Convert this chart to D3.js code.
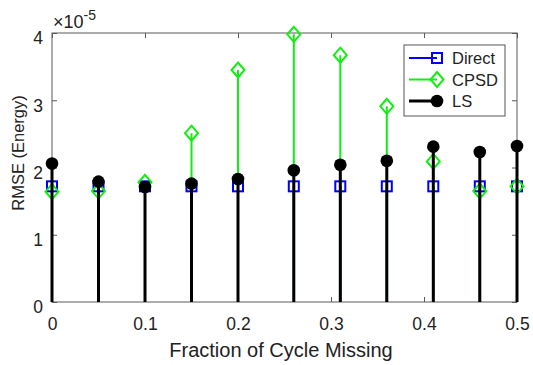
<!DOCTYPE html>
<html>
<head>
<meta charset="utf-8">
<script src="https://cdn.jsdelivr.net/npm/d3@7"></script>
<style>
  body { margin: 0; background: #fff; }
  text { font-family: "Liberation Sans", Arial, sans-serif; }
</style>
</head>
<body>
<div id="chart"></div>
<script>
const fractions = [0, 0.05, 0.1, 0.15, 0.2, 0.26, 0.31, 0.36, 0.41, 0.46, 0.5];
// values in units of 1e-5
const direct = [1.72, 1.72, 1.72, 1.72, 1.72, 1.72, 1.72, 1.72, 1.72, 1.72, 1.72];
const cpsd = [1.64, 1.65, 1.78, 2.51, 3.45, 3.98, 3.67, 2.91, 2.09, 1.65, 1.72];
const ls = [2.06, 1.79, 1.71, 1.76, 1.83, 1.96, 2.04, 2.10, 2.31, 2.23, 2.32];
const xTicks = [0, 0.1, 0.2, 0.3, 0.4, 0.5];
const yTicks = [0, 1, 2, 3, 4];

const width = 533, height = 365;
const plotLeft = 52, plotRight = 517, plotTop = 33, plotBottom = 302;

const svg = d3.select('#chart').append('svg')
    .attr('width', width)
    .attr('height', height);

const x = d3.scaleLinear().domain([0, 0.5]).range([plotLeft, plotRight]);
const y = d3.scaleLinear().domain([0, 4]).range([plotBottom, plotTop]);

// axes box
const axisColor = '#5a5a5a';
svg.append('rect')
    .attr('x', plotLeft).attr('y', plotTop)
    .attr('width', plotRight - plotLeft).attr('height', plotBottom - plotTop)
    .attr('fill', 'none').attr('stroke', axisColor).attr('stroke-width', 1);

const xAxis = svg.append('g').attr('transform', `translate(0,${plotBottom})`)
    .call(d3.axisBottom(x).tickValues(xTicks).tickFormat(d => d).tickSizeInner(-5).tickSizeOuter(0).tickPadding(16));
const xAxisTop = svg.append('g').attr('transform', `translate(0,${plotTop})`)
    .call(d3.axisTop(x).tickValues(xTicks).tickFormat('').tickSizeInner(-5).tickSizeOuter(0));
const yAxis = svg.append('g').attr('transform', `translate(${plotLeft},0)`)
    .call(d3.axisLeft(y).tickValues(yTicks).tickFormat(d => d).tickSizeInner(-5).tickSizeOuter(0).tickPadding(9));
const yAxisRight = svg.append('g').attr('transform', `translate(${plotRight},0)`)
    .call(d3.axisRight(y).tickValues(yTicks).tickFormat('').tickSizeInner(-5).tickSizeOuter(0));

[xAxis, xAxisTop, yAxis, yAxisRight].forEach(g => {
    g.select('.domain').remove();
    g.selectAll('line').attr('stroke', axisColor);
    g.selectAll('text').attr('fill', '#222').style('font-size', '17.5px')
        .style('font-family', '"Liberation Sans", Arial, sans-serif');
});
yAxis.selectAll('text').attr('dy', '0.62em');

// exponent label
const expo = svg.append('text').attr('x', 53).attr('y', 28)
    .attr('fill', '#222').style('font-size', '18px');
expo.append('tspan').text('\u00d710');
expo.append('tspan').attr('dy', -8).style('font-size', '14px').text('-5');

// axis labels
svg.append('text')
    .attr('x', 281).attr('y', 357)
    .attr('text-anchor', 'middle').attr('fill', '#222')
    .style('font-size', '20px')
    .text('Fraction of Cycle Missing');
svg.append('text')
    .attr('transform', `translate(24,153) rotate(-90)`)
    .attr('text-anchor', 'middle').attr('fill', '#222')
    .style('font-size', '16.5px')
    .text('RMSE (Energy)');

const series = [
    { name: 'Direct', values: direct, color: '#0000ff', marker: 'square', sw: 2 },
    { name: 'CPSD', values: cpsd, color: '#11ee11', marker: 'diamond', sw: 2 },
    { name: 'LS', values: ls, color: '#000000', marker: 'circle', sw: 3 }
];

function drawMarker(g, type, cx, cy, color) {
    if (type === 'square') {
        g.append('rect').attr('x', cx - 5).attr('y', cy - 5)
            .attr('width', 10).attr('height', 10)
            .attr('fill', 'none').attr('stroke', color).attr('stroke-width', 2);
    } else if (type === 'diamond') {
        g.append('path')
            .attr('d', `M${cx},${cy - 7.5}L${cx + 6.5},${cy}L${cx},${cy + 7.5}L${cx - 6.5},${cy}Z`)
            .attr('fill', 'none').attr('stroke', color).attr('stroke-width', 2);
    } else {
        g.append('circle').attr('cx', cx).attr('cy', cy).attr('r', 6.3)
            .attr('fill', color);
    }
}

series.forEach(s => {
    const g = svg.append('g');
    s.values.forEach((v, i) => {
        g.append('line')
            .attr('x1', x(fractions[i])).attr('x2', x(fractions[i]))
            .attr('y1', y(0)).attr('y2', y(v))
            .attr('stroke', s.color).attr('stroke-width', s.sw);
        drawMarker(g, s.marker, x(fractions[i]), y(v), s.color);
    });
});

// legend
const lg = svg.append('g');
lg.append('rect').attr('x', 404).attr('y', 45).attr('width', 101).attr('height', 71)
    .attr('fill', '#fff').attr('stroke', '#555').attr('stroke-width', 1);
series.forEach((s, i) => {
    const ly = 58 + i * 21.5;
    lg.append('line').attr('x1', 409).attr('x2', 437).attr('y1', ly).attr('y2', ly)
        .attr('stroke', s.color).attr('stroke-width', s.sw);
    drawMarker(lg, s.marker, 437, ly, s.color);
    lg.append('text').attr('x', 452).attr('y', ly + 6)
        .attr('fill', '#222').style('font-size', '16.5px').text(s.name);
});
</script>
</body>
</html>
